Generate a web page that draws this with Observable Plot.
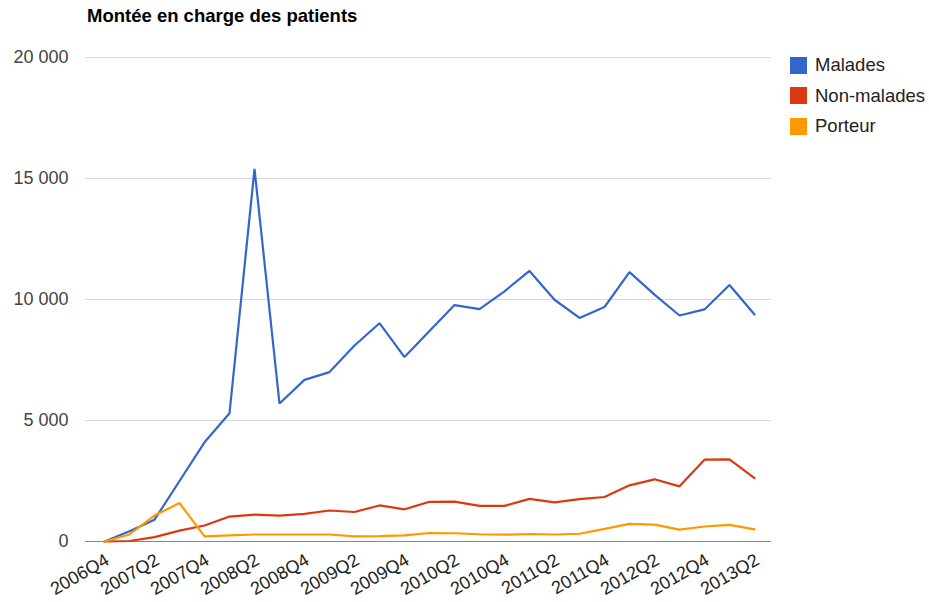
<!DOCTYPE html>
<html>
<head>
<meta charset="utf-8">
<script src="https://cdn.jsdelivr.net/npm/d3@7"></script>
<script src="https://cdn.jsdelivr.net/npm/@observablehq/plot@0.6"></script>
<style>
  html, body { margin: 0; padding: 0; background: #fff; }
  #wrap { position: relative; width: 929px; height: 602px; font-family: "Liberation Sans", Arial, sans-serif; }
  #title { position: absolute; left: 87px; top: 5px; font-size: 18.5px; font-weight: bold; color: #000; }
  #legend { position: absolute; left: 790px; top: 50px; }
  .item { display: flex; align-items: center; height: 30.5px; font-size: 18.5px; color: #222; }
  .sw { width: 17px; height: 17px; margin-right: 8px; }
</style>
</head>
<body>
<div id="wrap">
  <div id="title">Montée en charge des patients</div>
  <div id="legend"></div>
</div>
<script>
const quarters = ["2006Q4","2007Q1","2007Q2","2007Q3","2007Q4","2008Q1","2008Q2","2008Q3","2008Q4",
  "2009Q1","2009Q2","2009Q3","2009Q4","2010Q1","2010Q2","2010Q3","2010Q4","2011Q1","2011Q2","2011Q3",
  "2011Q4","2012Q1","2012Q2","2012Q3","2012Q4","2013Q1","2013Q2"];
const seriesNames = ["Malades", "Non-malades", "Porteur"];
const seriesColors = ["#3366cc", "#dc3912", "#ff9900"];
const malades = [0, 420, 900, 2500, 4100, 5300, 15400, 5700, 6680, 7000, 8100, 9020, 7620, 8700, 9770,
  9600, 10340, 11180, 9990, 9240, 9690, 11130, 10200, 9340, 9590, 10600, 9380];
const nonMalades = [0, 20, 180, 450, 660, 1030, 1110, 1070, 1140, 1280, 1220, 1490, 1330, 1640, 1650,
  1470, 1470, 1760, 1620, 1750, 1840, 2320, 2570, 2280, 3380, 3390, 2620];
const porteur = [0, 290, 1070, 1590, 210, 250, 290, 290, 290, 290, 210, 220, 250, 350, 340,
  300, 280, 310, 290, 320, 520, 730, 700, 490, 620, 690, 500];
const yTicks = [0, 5000, 10000, 15000, 20000];
const xTicks = quarters.filter((q, i) => i % 2 === 0);

const allSeries = [malades, nonMalades, porteur];
const data = [];
seriesNames.forEach((name, s) => {
  allSeries[s].forEach((v, i) => data.push({quarter: quarters[i], value: v, series: name}));
});

const fmt = d => d3.format(",")(d).replace(/,/g, " ");

const chart = Plot.plot({
  width: 929,
  height: 602,
  marginLeft: 85,
  marginRight: 158,
  marginTop: 57,
  marginBottom: 61,
  style: {fontFamily: "'Liberation Sans', Arial, sans-serif", background: "transparent"},
  x: {type: "point", domain: quarters, padding: 0, insetLeft: 15, insetRight: 14, label: null},
  y: {domain: [0, 20000], label: null},
  color: {domain: seriesNames, range: seriesColors},
  marks: [
    Plot.ruleY(yTicks.filter(t => t > 0), {stroke: "#d8d8d8", strokeWidth: 1}),
    Plot.ruleY([0], {stroke: "#888", strokeWidth: 1}),
    Plot.axisY({ticks: yTicks, tickFormat: fmt, tickSize: 0, tickPadding: 17, fontSize: 18, fill: "#444", label: null}),
    Plot.axisX({ticks: xTicks, tickSize: 0, tickPadding: 17, tickRotate: -30, fontSize: 18, fill: "#222", label: null, dx: 3}),
    Plot.line(data, {x: "quarter", y: "value", stroke: "series", z: "series", strokeWidth: 2.2, strokeLinejoin: "miter"})
  ]
});
const wrap = document.getElementById("wrap");
chart.style.position = "absolute";
chart.style.left = "0";
chart.style.top = "0";
wrap.insertBefore(chart, wrap.firstChild);

const legend = document.getElementById("legend");
seriesNames.forEach((name, i) => {
  const it = document.createElement("div");
  it.className = "item";
  const sw = document.createElement("div");
  sw.className = "sw";
  sw.style.background = seriesColors[i];
  const t = document.createElement("span");
  t.textContent = name;
  it.appendChild(sw);
  it.appendChild(t);
  legend.appendChild(it);
});
</script>
</body>
</html>
